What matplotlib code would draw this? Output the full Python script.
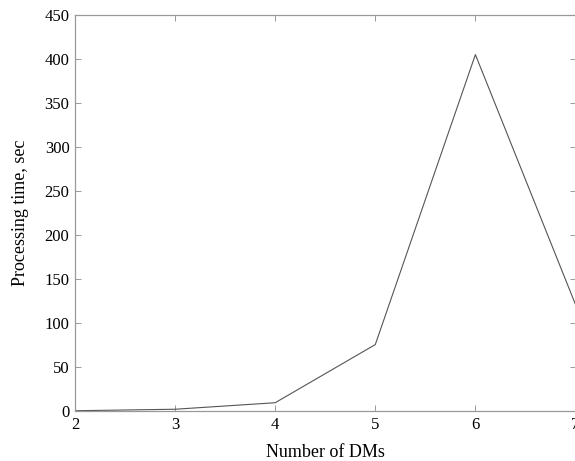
import matplotlib

matplotlib.use("Agg")
import matplotlib.pyplot as plt

# Processing time vs. number of decision makers
num_dms = [2, 3, 4, 5, 6, 7]
proc_time = [0.3, 2, 9.4, 75.5, 405, 121]

x_ticks = [2, 3, 4, 5, 6, 7]
y_ticks = [0, 50, 100, 150, 200, 250, 300, 350, 400, 450]

plt.rcParams["font.family"] = ["Liberation Serif", "DejaVu Serif"]
plt.rcParams["font.size"] = 12

fig = plt.figure(figsize=(5.75, 4.61), dpi=100)
ax = fig.add_axes([75 / 575, 1 - 411 / 461, 500.5 / 575, 396 / 461])

ax.plot(num_dms, proc_time, color="#555555", linewidth=0.8)

ax.set_xlim(2, 7)
ax.set_ylim(0, 450)
ax.set_xticks(x_ticks)
ax.set_yticks(y_ticks)

for side in ax.spines.values():
    side.set_color("#999999")
    side.set_linewidth(0.9)
ax.tick_params(direction="in", length=4, width=0.7, colors="#999999",
               top=True, right=True, labelcolor="black", pad=4)

ax.set_xlabel("Number of DMs", fontsize=13, labelpad=8)
ax.set_ylabel("Processing time, sec", fontsize=13, labelpad=11)

fig.savefig("out.png", dpi=100)
